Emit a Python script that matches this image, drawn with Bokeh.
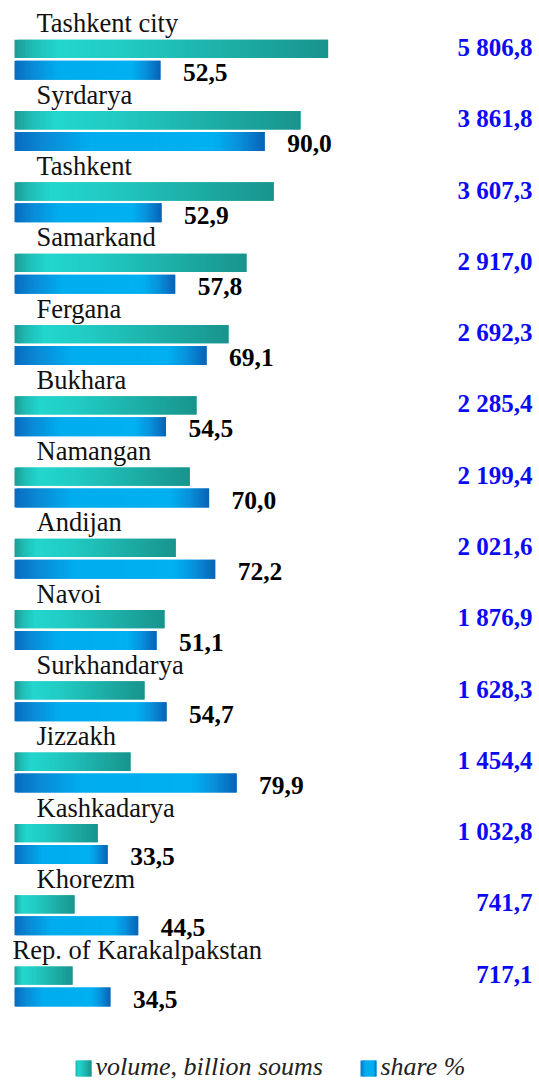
from bokeh.plotting import figure
from bokeh.models import Range1d, ColumnDataSource
from bokeh.core.properties import value
from bokeh.embed import file_html
from bokeh.resources import INLINE

# ---------------- data ----------------
regions = ["Tashkent city", "Syrdarya", "Tashkent", "Samarkand", "Fergana", "Bukhara",
           "Namangan", "Andijan", "Navoi", "Surkhandarya", "Jizzakh", "Kashkadarya",
           "Khorezm", "Rep. of Karakalpakstan"]
# labelled values (volume, billion soums)
volume = [5806.8, 3861.8, 3607.3, 2917.0, 2692.3, 2285.4, 2199.4, 2021.6, 1876.9,
          1628.3, 1454.4, 1032.8, 741.7, 717.1]
# teal bar lengths as drawn in the reference (same unit)
volume_bar = [3920, 3575, 3240, 2900, 2675, 2275, 2190, 2015, 1875, 1625, 1450, 1040, 750, 725]
# share, %
share = [52.5, 90.0, 52.9, 57.8, 69.1, 54.5, 70.0, 72.2, 51.1, 54.7, 79.9, 33.5, 44.5, 34.5]
legend_labels = ["volume, billion soums", "share %"]


def fmt(v):
    return f"{v:,.1f}".replace(",", " ").replace(".", ",")


volume_labels = [fmt(v) for v in volume]
share_labels = [fmt(v) for v in share]

# ---------------- layout ----------------
W, H = 539, 1080
PX_SHARE = 2.78          # px per %
PX_VOL = 1 / 12.5        # px per billion soums
X0 = 14                  # frame px of zero
Y0 = 48.45               # frame px of first row centre (teal bar)
ROW = 71.28              # px per row
TXT = -8.0               # text baseline correction, px
FONT = value("Liberation Serif")

TEAL_H = 18.3 / ROW
BLUE_H = 19.0 / ROW
BLUE_DY = 21.35 / ROW

p = figure(width=W, height=H,
           x_range=Range1d(-X0 / PX_SHARE, (W - X0) / PX_SHARE),
           y_range=Range1d(start=(H - Y0) / ROW, end=-Y0 / ROW),
           output_backend="svg", toolbar_location=None, min_border=0,
           x_axis_location=None, y_axis_location=None)
p.extra_x_ranges = {"vol": Range1d(-X0 / PX_VOL, (W - X0) / PX_VOL)}
p.grid.visible = False
p.outline_line_color = None
p.background_fill_color = "white"
p.border_fill_color = "white"


def hex2rgb(h):
    h = h.lstrip("#")
    return tuple(int(h[i:i + 2], 16) for i in (0, 2, 4))


def grad(stops, t):
    for (t0, c0), (t1, c1) in zip(stops, stops[1:]):
        if t0 <= t <= t1:
            f = (t - t0) / (t1 - t0) if t1 > t0 else 0
            a, b = hex2rgb(c0), hex2rgb(c1)
            return "#%02x%02x%02x" % tuple(round(a[j] + (b[j] - a[j]) * f) for j in range(3))
    return stops[-1][1]


TEAL = [(0.0, "#1c9c95"), (0.06, "#20bdb6"), (0.14, "#22d6ce"), (0.35, "#21cbc3"),
        (1.0, "#18948d")]
BLUE = [(0.0, "#086cc0"), (0.12, "#0a8ad6"), (0.3, "#00adee"), (0.8, "#00b0f0"),
        (0.9, "#0890da"), (1.0, "#0862b6")]

N = 90


def gradient_source(vals, ys, stops):
    d = dict(y=[], left=[], right=[], color=[])
    for v, y in zip(vals, ys):
        for k in range(N):
            d["y"].append(y)
            d["left"].append(v * k / N)
            d["right"].append(v * min(k + 2, N) / N)
            d["color"].append(grad(stops, (k + 0.5) / N))
    return ColumnDataSource(d)


rows = list(range(len(regions)))

p.hbar(y="y", left="left", right="right", height=TEAL_H, fill_color="color",
       line_color=None, source=gradient_source(volume_bar, rows, TEAL), x_range_name="vol")
p.hbar(y="y", left="left", right="right", height=BLUE_H, fill_color="color",
       line_color=None, source=gradient_source(share, [r + BLUE_DY for r in rows], BLUE))

# category labels
cat_src = ColumnDataSource(dict(
    x=[0] * len(regions),
    y=[r + (-17.5 + TXT) / ROW for r in rows],
    text=regions,
    xo=[-2 if len(r) > 20 else 22 for r in regions]))
p.text(x="x", y="y", text="text", x_offset="xo", source=cat_src, text_font=FONT,
       text_font_size="26.5px", text_baseline="alphabetic", text_align="left",
       text_color="#111111")

# share value labels
p.text(x=share, y=[r + (31.6 + TXT) / ROW for r in rows], text=share_labels, x_offset=22.5,
       text_font=FONT, text_font_size="25.5px", text_font_style="bold",
       text_baseline="alphabetic", text_align="left", text_color="#000000")

# volume value labels (right-aligned)
xr = p.x_range.end
p.text(x=[xr] * len(volume_labels), y=[r + (6.6 + TXT) / ROW for r in rows],
       text=volume_labels, x_offset=-7, text_font=FONT, text_font_size="25px",
       text_font_style="bold", text_baseline="alphabetic", text_align="right",
       text_color="#0a0af5")


# legend (manual)
def fx(page_x):
    return (page_x - X0) / PX_SHARE


def fy(page_y):
    return (page_y - Y0) / ROW


for sx, stops, lab in [(75, TEAL, legend_labels[0]), (360, BLUE, legend_labels[1])]:
    M = 8
    for k in range(M):
        p.quad(left=fx(sx + 16 * k / M), right=fx(sx + 16 * min(k + 2, M) / M),
               top=fy(1060), bottom=fy(1076), fill_color=grad(stops, (k + 0.5) / M),
               line_color=None)
    p.text(x=[fx(sx + 20)], y=[fy(1074 + TXT)], text=[lab], text_font=FONT,
           text_font_size="26px", text_font_style="italic", text_baseline="alphabetic",
           text_align="left", text_color="#222222")

open("out.html", "w").write(file_html(p, INLINE))
